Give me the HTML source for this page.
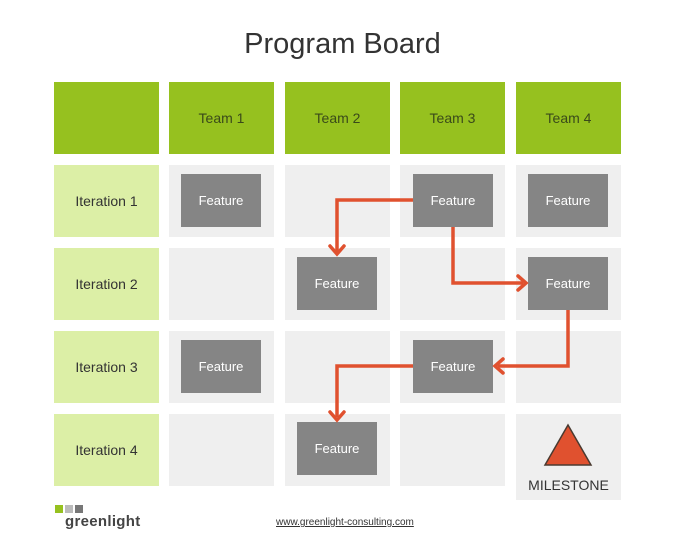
<!DOCTYPE html>
<html><head><style>
body{margin:0;width:675px;height:540px;background:#fff;font-family:"Liberation Sans",sans-serif;position:relative;overflow:hidden}
.a{position:absolute;display:flex;align-items:center;justify-content:center;font-size:14px}
.h{background:#96c11f;color:#3a4a1a}
.it{background:#dcefa6;color:#333}
.c{background:#efefef}
.f{background:#858585;color:#fff;font-size:13px}
</style></head><body>
<div class="a" style="left:0;top:26px;width:685px;height:36px;font-size:29px;color:#333">Program Board</div>

<div class="a h" style="left:54px;top:82px;width:105px;height:72px"></div>
<div class="a h" style="left:169px;top:82px;width:105px;height:72px">Team 1</div>
<div class="a h" style="left:285px;top:82px;width:105px;height:72px">Team 2</div>
<div class="a h" style="left:400px;top:82px;width:105px;height:72px">Team 3</div>
<div class="a h" style="left:516px;top:82px;width:105px;height:72px">Team 4</div>

<div class="a it" style="left:54px;top:165px;width:105px;height:72px">Iteration 1</div>
<div class="a it" style="left:54px;top:248px;width:105px;height:72px">Iteration 2</div>
<div class="a it" style="left:54px;top:331px;width:105px;height:72px">Iteration 3</div>
<div class="a it" style="left:54px;top:414px;width:105px;height:72px">Iteration 4</div>

<div class="a c" style="left:169px;top:165px;width:105px;height:72px"></div>
<div class="a c" style="left:285px;top:165px;width:105px;height:72px"></div>
<div class="a c" style="left:400px;top:165px;width:105px;height:72px"></div>
<div class="a c" style="left:516px;top:165px;width:105px;height:72px"></div>
<div class="a c" style="left:169px;top:248px;width:105px;height:72px"></div>
<div class="a c" style="left:285px;top:248px;width:105px;height:72px"></div>
<div class="a c" style="left:400px;top:248px;width:105px;height:72px"></div>
<div class="a c" style="left:516px;top:248px;width:105px;height:72px"></div>
<div class="a c" style="left:169px;top:331px;width:105px;height:72px"></div>
<div class="a c" style="left:285px;top:331px;width:105px;height:72px"></div>
<div class="a c" style="left:400px;top:331px;width:105px;height:72px"></div>
<div class="a c" style="left:516px;top:331px;width:105px;height:72px"></div>
<div class="a c" style="left:169px;top:414px;width:105px;height:72px"></div>
<div class="a c" style="left:285px;top:414px;width:105px;height:72px"></div>
<div class="a c" style="left:400px;top:414px;width:105px;height:72px"></div>
<div class="a c" style="left:516px;top:414px;width:105px;height:86px"></div>

<div class="a f" style="left:181px;top:174px;width:80px;height:53px">Feature</div>
<div class="a f" style="left:413px;top:174px;width:80px;height:53px">Feature</div>
<div class="a f" style="left:528px;top:174px;width:80px;height:53px">Feature</div>
<div class="a f" style="left:297px;top:257px;width:80px;height:53px">Feature</div>
<div class="a f" style="left:528px;top:257px;width:80px;height:53px">Feature</div>
<div class="a f" style="left:181px;top:340px;width:80px;height:53px">Feature</div>
<div class="a f" style="left:413px;top:340px;width:80px;height:53px">Feature</div>
<div class="a f" style="left:297px;top:422px;width:80px;height:53px">Feature</div>

<svg style="position:absolute;left:0;top:0" width="675" height="540">
<g fill="none" stroke="#e0512f" stroke-width="3.5">
<polyline points="413,200 337,200 337,252"/>
<polyline points="453,227 453,283 523,283"/>
<polyline points="568,310 568,366 498,366"/>
<polyline points="413,366 337,366 337,417"/>
</g>
<g fill="none" stroke="#e0512f" stroke-width="3.5" stroke-linecap="round">
<polyline points="330,246 337,254 344,246"/>
<polyline points="518,276 526,283 518,290"/>
<polyline points="503,359 495,366 503,373"/>
<polyline points="330,412 337,420 344,412"/>
</g>
<polygon points="568,425 545,465 591,465" fill="#e0512f" stroke="#4a3a30" stroke-width="1.5"/>
</svg>
<div class="a" style="left:516px;top:476px;width:105px;height:18px;font-size:14px;color:#333">MILESTONE</div>

<div style="position:absolute;left:55px;top:505px;width:8px;height:8px;background:#96c11f"></div>
<div style="position:absolute;left:65px;top:505px;width:8px;height:8px;background:#bbb"></div>
<div style="position:absolute;left:75px;top:505px;width:8px;height:8px;background:#777"></div>
<div style="position:absolute;left:65px;top:513px;font-size:15px;font-weight:bold;color:#444;letter-spacing:0.3px">greenlight</div>
<div style="position:absolute;left:276px;top:517px;font-size:10px;color:#333;text-decoration:underline">www.greenlight-consulting.com</div>
</body></html>
